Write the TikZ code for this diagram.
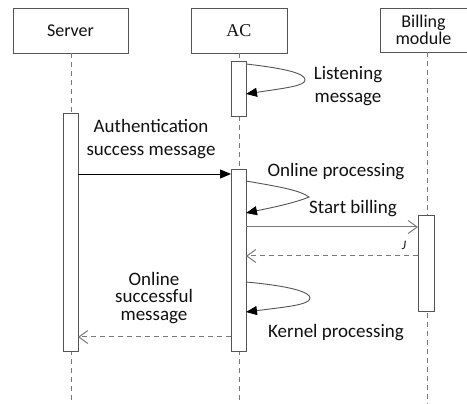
\documentclass[tikz,border=0pt]{standalone}
\usepackage{fontspec}
\setmainfont{Carlito}
\newfontfamily\serifface{Liberation Serif}
\usetikzlibrary{arrows.meta}
\definecolor{boxline}{HTML}{555555}
\definecolor{msgline}{HTML}{7A7A7A}
\definecolor{txt}{HTML}{111111}
\begin{document}
\begin{tikzpicture}[x=1pt,y=-1pt,
  actor/.style={draw=boxline,line width=0.9pt,fill=white,minimum width=#1,minimum height=45pt,inner sep=0pt,font=\fontsize{18}{18}\selectfont,text=txt},
  actbar/.style={draw=boxline,line width=0.9pt,fill=white},
  lifeline/.style={draw=msgline,line width=1pt,dash pattern=on 5pt off 4pt},
  label/.style={font=\fontsize{19}{23}\selectfont,text=txt,inner sep=1pt,align=center},
  syncmsg/.style={draw=black,line width=0.9pt,-{Triangle[length=11pt,width=9pt]}},
  loopmsg/.style={draw=boxline,line width=0.9pt,-{Triangle[length=11pt,width=9pt,black]}},
  callmsg/.style={draw=msgline,line width=1pt,-{Straight Barb[length=9pt,width=13pt,line width=1pt]}},
  replymsg/.style={draw=msgline,line width=1pt,dash pattern=on 5pt off 4pt,-{Straight Barb[length=9pt,width=13pt,line width=1pt]}}]
\useasboundingbox (0,0) rectangle (467,404);
\fill[white] (0,0) rectangle (467,404);

% participants
\node[actor=115pt] (server) at (70.5,30.5) {Server};
\node[actor=96pt] (ac) at (239,30.5) {\serifface AC};
\node[actor=87pt,minimum height=44pt,align=center,font=\fontsize{18}{17}\selectfont] (bill) at (423.5,30) {Billing\\module};

% lifelines
\coordinate (server-end) at (71,404);
\coordinate (ac-end) at (239,404);
\coordinate (bill-end) at (427,404);
\draw[lifeline] (server.south -| server-end) -- (server-end);
\draw[lifeline] (ac.south -| ac-end) -- (ac-end);
\draw[lifeline] (bill.south -| bill-end) -- (bill-end);

% activation bars
\draw[actbar] (231,61) rectangle (246,116);
\draw[actbar] (63,113) rectangle (78,351);
\draw[actbar] (231,169) rectangle (246,351);
\draw[actbar] (418,215) rectangle (434,311);

% message end points on the bars
\coordinate (listen-a) at (246,64);
\coordinate (listen-b) at (246,94);
\coordinate (auth-a) at (78,174);
\coordinate (auth-b) at (231,174);
\coordinate (online-a) at (246,181);
\coordinate (online-b) at (246,213);
\coordinate (start-a) at (246,227);
\coordinate (start-b) at (418,227);
\coordinate (back-a) at (418,256);
\coordinate (back-b) at (246,256);
\coordinate (kernel-a) at (246,282);
\coordinate (kernel-b) at (246,312);
\coordinate (succ-a) at (231,337);
\coordinate (succ-b) at (78,337);

% self calls on AC
\draw[loopmsg] (listen-a) .. controls (290,69) and (305,74) .. (305,80)
  .. controls (305,86) and (285,88) .. (listen-b);
\draw[loopmsg] (online-a) .. controls (275,186) and (300,190) .. (309,197)
  .. controls (295,203) and (270,208) .. (online-b);
\draw[loopmsg] (kernel-a) .. controls (290,286) and (310,292) .. (310,298)
  .. controls (310,305) and (285,307) .. (kernel-b);

% messages between participants
\draw[syncmsg] (auth-a) -- (auth-b);
\draw[callmsg] (start-a) -- (start-b);
\draw[replymsg] (back-a) -- (back-b);
\draw[replymsg] (succ-a) -- (succ-b);

% labels
\node[label] (l-listen) at (348,86) {Listening\\message};
\node[label] (l-auth) at (151,139) {Authentication\\success message};
\node[label] (l-online) at (336,172) {Online processing};
\node[label,fill=white,inner sep=0pt] (l-start) at (353,209) {Start billing};
\node[font=\fontsize{13}{13}\selectfont\itshape,text=txt] (l-mark) at (404,245) {J};
\node[label,font=\fontsize{19}{17.5}\selectfont] (l-succ) at (154,298) {Online\\successful\\message};
\node[label] (l-kernel) at (336,333) {Kernel processing};
\end{tikzpicture}
\end{document}
